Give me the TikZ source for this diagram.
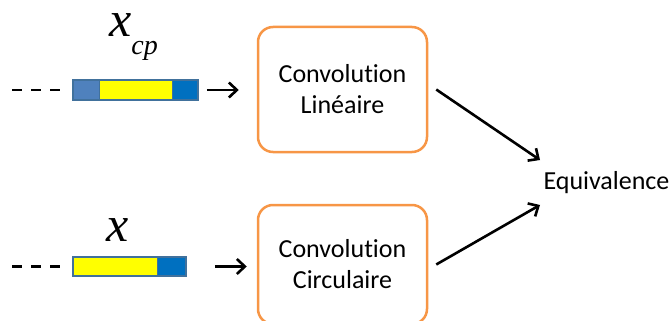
\documentclass[tikz,border=0pt]{standalone}
\usepackage{fontspec}
\setmainfont[Ligatures=NoCommon, RawFeature={-liga}]{Carlito}
\newfontfamily\timesfont{Liberation Serif}
\usetikzlibrary{arrows.meta, positioning}
\definecolor{convorange}{HTML}{F79646}
\definecolor{barblue}{HTML}{41719C}
\definecolor{cpblue}{HTML}{4F81BD}
\definecolor{tailblue}{HTML}{0070C0}
\definecolor{sigyellow}{HTML}{FFFF00}
\tikzset{
  convbox/.style={draw=convorange, line width=2.5pt, rounded corners=15pt,
    minimum width=169pt, align=center, font=\fontsize{26}{31}\selectfont},
  sigbar/.style={draw=barblue, line width=1.6pt, minimum height=20pt, inner sep=0pt},
  flow/.style={-{Straight Barb[length=8pt,width=15pt]}, line width=2.6pt},
  tailline/.style={line width=2.4pt, dash pattern=on 10pt off 9pt},
  siglabel/.style={font=\timesfont\itshape\fontsize{50}{50}\selectfont, inner sep=0pt,
    anchor=base west, text height=24pt, text depth=20pt}
}
\begin{document}
\begin{tikzpicture}[x=1pt, y=-1pt]
\useasboundingbox (0,0) rectangle (669,321);
\node[siglabel] (labcp) at (109,37) {x\raisebox{-18pt}{\fontsize{28}{28}\selectfont cp}};
\fill[cpblue] (73,80) rectangle (99,100);
\fill[sigyellow] (99,80) rectangle (172,100);
\fill[tailblue] (172,80) rectangle (198,100);
\draw[barblue, line width=0.8pt] (99,80) -- (99,100) (172,80) -- (172,100);
\node[sigbar, minimum width=125pt] (barcp) at (135.5,90) {};
\coordinate (tailcp) at (12,90);
\draw[tailline, shorten >=8pt] (tailcp) -- (barcp.west);
\node[convbox, minimum height=125pt] (lin) at (342.5,89.5) {Convolution\\Linéaire};
\draw[flow, shorten <=8pt, shorten >=18pt] (barcp.east) -- (barcp.east -| lin.west);

\node[siglabel] (labx) at (106,241) {x};
\fill[sigyellow] (73,257) rectangle (157,276);
\fill[tailblue] (157,257) rectangle (186,276);
\draw[barblue, line width=0.8pt] (157,257) -- (157,276);
\node[sigbar, minimum width=113pt, minimum height=19pt] (barx) at (129.5,266.5) {};
\coordinate (tailx) at (12,266.5);
\draw[tailline, shorten >=8pt] (tailx) -- (barx.west);
\node[convbox, minimum height=119pt] (circ) at (342.5,264.5) {Convolution\\Circulaire};
\draw[flow, shorten <=28pt, shorten >=10pt] (barx.east) -- (barx.east -| circ.west);

\node[font=\fontsize{26}{31}\selectfont, anchor=west] (equiv) at (540,183) {Equivalence};
\draw[flow] ([xshift=8pt]lin.east) -- ([yshift=23pt]equiv.west);
\draw[flow] ([xshift=8pt]circ.east) -- ([yshift=-22pt]equiv.west);
\end{tikzpicture}
\end{document}
